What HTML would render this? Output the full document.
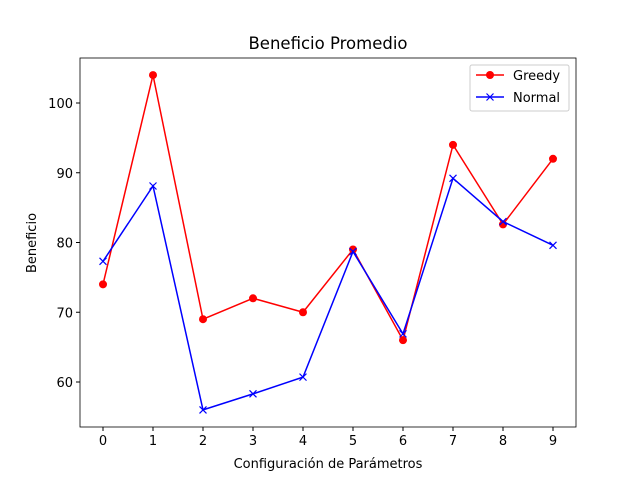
<!DOCTYPE html>
<html><head><meta charset="utf-8"><style>body{margin:0;background:#fff}svg{display:block;font-family:"DejaVu Sans","Liberation Sans",sans-serif}</style></head>
<body>
<svg id="c" width="640" height="480"></svg>
<script>
const categories=[0,1,2,3,4,5,6,7,8,9];
const greedy=[74,104,69,72,70,79,66,94,82.6,92];
const normal=[77.3,88.1,56,58.3,60.7,78.7,66.9,89.2,83,79.6];
const yTicks=[60,70,80,90,100];
const L=80,R=576,T=58,B=427;
const x=v=>103+(v-0)*50;
const y=v=>382-(v-60)*6.975;
const NS="http://www.w3.org/2000/svg";
const svg=document.getElementById('c');
function mk(t,a,p){const e=document.createElementNS(NS,t);for(const k in a)e.setAttribute(k,a[k]);(p||svg).appendChild(e);return e;}
let t=mk('text',{x:328,y:49,'text-anchor':'middle','font-size':16.5});t.textContent='Beneficio Promedio';

categories.forEach(c=>{mk('line',{x1:x(c),x2:x(c),y1:B,y2:B+4,stroke:'#000'});
let e=mk('text',{x:x(c),y:B+18,'text-anchor':'middle','font-size':13});e.textContent=c;
});
yTicks.forEach(v=>{mk('line',{x1:L-4,x2:L,y1:y(v),y2:y(v),stroke:'#000'});
let e=mk('text',{x:L-7,y:y(v)+5,'text-anchor':'end','font-size':13});e.textContent=v;
});
t=mk('text',{x:328,y:468,'text-anchor':'middle','font-size':13});t.textContent='Configuración de Parámetros';

t=mk('text',{x:0,y:0,'text-anchor':'middle','font-size':13,transform:'translate(36,243) rotate(-90)'});t.textContent='Beneficio';

function series(d,col,name,marker){
 const g=mk('g',{});
 mk('polyline',{points:d.map((v,i)=>x(categories[i])+','+y(v)).join(' '),fill:'none',stroke:col,'stroke-width':1.5},g);
 d.forEach((v,i)=>{const cx=x(categories[i]),cy=y(v);
  if(marker==='o')mk('circle',{cx,cy,r:4,fill:col},g);
  else mk('path',{d:`M${cx-3.5},${cy-3.5}L${cx+3.5},${cy+3.5}M${cx-3.5},${cy+3.5}L${cx+3.5},${cy-3.5}`,stroke:col,'stroke-width':1.2},g);});
}
series(greedy,'#ff0000','greedy','o');
series(normal,'#0000ff','normal','x');
const fr=mk('rect',{x:L,y:T,width:R-L,height:B-T,fill:'none',stroke:'#000','stroke-width':0.8});

const lg=mk('g',{});
mk('rect',{x:470,y:65,width:99,height:46,rx:2,fill:'#fff',stroke:'#ccc'},lg);
mk('line',{x1:476,x2:504,y1:75,y2:75,stroke:'#f00','stroke-width':1.5},lg);mk('circle',{cx:490,cy:75,r:4,fill:'#f00'},lg);
t=mk('text',{x:513,y:80,'font-size':13},lg);t.textContent='Greedy';
mk('line',{x1:476,x2:504,y1:97,y2:97,stroke:'#00f','stroke-width':1.5},lg);mk('path',{d:'M486.5,93.5L493.5,100.5M486.5,100.5L493.5,93.5',stroke:'#00f','stroke-width':1.2},lg);
t=mk('text',{x:513,y:102,'font-size':13},lg);t.textContent='Normal';
</script>
</body></html>
